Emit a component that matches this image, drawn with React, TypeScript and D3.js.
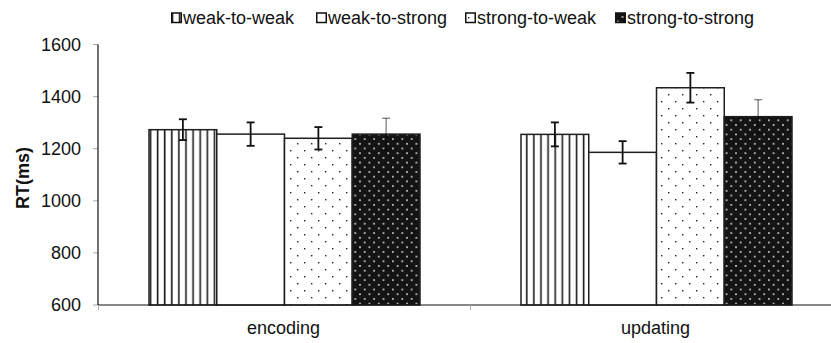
import React from "react";
import * as d3 from "d3";

const categories = ["encoding", "updating"];
const seriesNames = ["weak-to-weak", "weak-to-strong", "strong-to-weak", "strong-to-strong"];
const encodingMeans = [1273, 1256, 1240, 1256];
const encodingErrors = [40, 45, 43, 61];
const updatingMeans = [1255, 1186, 1434, 1323];
const updatingErrors = [46, 43, 57, 65];
const yTicks = [600, 800, 1000, 1200, 1400, 1600];
const yTitle = "RT(ms)";

const W = 831;
const H = 343;
const FONT = "'Liberation Sans', Arial, sans-serif";
const fills = ["url(#pVert)", "#ffffff", "url(#pDots)", "url(#pDark)"];
const legendX = [171, 316, 465, 615];

export default function App() {
  const y = d3.scaleLinear().domain([600, 1600]).range([305, 44.5]);
  const x0 = d3.scaleBand<string>().domain(categories).range([98.5, 842.5]).paddingInner(0).paddingOuter(0);
  const x1 = d3
    .scaleBand<string>()
    .domain(seriesNames)
    .range([0, x0.bandwidth()])
    .paddingInner(0)
    .paddingOuter(0.7454);

  const table = categories.map((c, ci) => ({
    cat: c,
    means: ci === 0 ? encodingMeans : updatingMeans,
    errs: ci === 0 ? encodingErrors : updatingErrors,
  }));

  const axisX = 98;
  const axisY = y(600);

  return (
    <svg
      width={W}
      height={H}
      style={{ position: "absolute", left: 0, top: 0, background: "#fff" }}
      fontFamily={FONT}
    >
      <defs>
        <pattern id="pVert" patternUnits="userSpaceOnUse" width={7.1} height={10} x={149}>
          <rect width={7.1} height={10} fill="#fff" />
          <line x1={1.5} x2={1.5} y1={0} y2={10} stroke="#1a1a1a" strokeWidth={1.6} />
        </pattern>
        <pattern id="pDots" patternUnits="userSpaceOnUse" width={14} height={14}>
          <rect width={14} height={14} fill="#fff" />
          <rect x={3} y={3} width={1.4} height={1.4} fill="#222" />
          <rect x={10} y={10} width={1.4} height={1.4} fill="#222" />
        </pattern>
        <pattern id="pDark" patternUnits="userSpaceOnUse" width={9.4} height={9.4}>
          <rect width={9.4} height={9.4} fill="#141414" />
          <rect x={2} y={2} width={1.6} height={1.6} fill="#e6e6e6" />
          <rect x={6.7} y={6.7} width={1.6} height={1.6} fill="#e6e6e6" />
        </pattern>
      </defs>

      {/* legend */}
      {seriesNames.map((s, i) => (
        <g key={s} transform={`translate(${legendX[i]},0)`}>
          <rect x={0.75} y={13} width={9.5} height={9.5} fill={fills[i]} stroke="#111" strokeWidth={1.5} />
          <text x={12} y={23.5} fontSize={18} fill="#111">
            {s}
          </text>
        </g>
      ))}

      {/* y ticks and labels */}
      {yTicks.map((t) => (
        <g key={t}>
          <line x1={axisX - 5} x2={axisX} y1={y(t)} y2={y(t)} stroke="#aaa" strokeWidth={1} />
          <text x={81} y={y(t)} dy="0.35em" textAnchor="end" fontSize={18} fill="#111">
            {t}
          </text>
        </g>
      ))}

      <text
        transform={`translate(${29},${178}) rotate(-90)`}
        textAnchor="middle"
        fontSize={18}
        fontWeight="bold"
        fill="#111"
      >
        {yTitle}
      </text>

      {/* bars */}
      {table.map((row) =>
        seriesNames.map((s, si) => {
          const bx = (x0(row.cat) as number) + (x1(s) as number);
          const bw = x1.bandwidth();
          const top = y(row.means[si]);
          return (
            <rect
              key={row.cat + s}
              x={bx}
              y={top}
              width={bw}
              height={axisY - top}
              fill={fills[si]}
              stroke="#1f1f1f"
              strokeWidth={1.5}
            />
          );
        })
      )}

      {/* error bars */}
      {table.map((row) =>
        seriesNames.map((s, si) => {
          const cx = (x0(row.cat) as number) + (x1(s) as number) + x1.bandwidth() / 2;
          const hi = y(row.means[si] + row.errs[si]);
          const lo = y(row.means[si] - row.errs[si]);
          const dark = si === 3;
          const stroke = dark ? "rgba(0,0,0,0.55)" : "#111";
          const sw = dark ? 1.2 : 1.8;
          return (
            <g key={"e" + row.cat + s} stroke={stroke} strokeWidth={sw}>
              <line x1={cx} x2={cx} y1={hi} y2={lo} />
              <line x1={cx - 4} x2={cx + 4} y1={hi} y2={hi} />
              <line x1={cx - 4} x2={cx + 4} y1={lo} y2={lo} />
            </g>
          );
        })
      )}

      {/* axes */}
      <line x1={axisX} x2={axisX} y1={y(1600)} y2={axisY} stroke="#111" strokeWidth={1.2} />
      <line x1={axisX} x2={W} y1={axisY} y2={axisY} stroke="#111" strokeWidth={1.2} />
      {categories.map((c) => (
        <line
          key={"t" + c}
          x1={x0(c) as number}
          x2={x0(c) as number}
          y1={axisY}
          y2={axisY + 5}
          stroke="#aaa"
          strokeWidth={1}
        />
      ))}
      {categories.map((c) => (
        <text
          key={"l" + c}
          x={(x0(c) as number) + x0.bandwidth() / 2 - 1}
          y={334}
          textAnchor="middle"
          fontSize={18}
          fill="#111"
        >
          {c}
        </text>
      ))}
    </svg>
  );
}
